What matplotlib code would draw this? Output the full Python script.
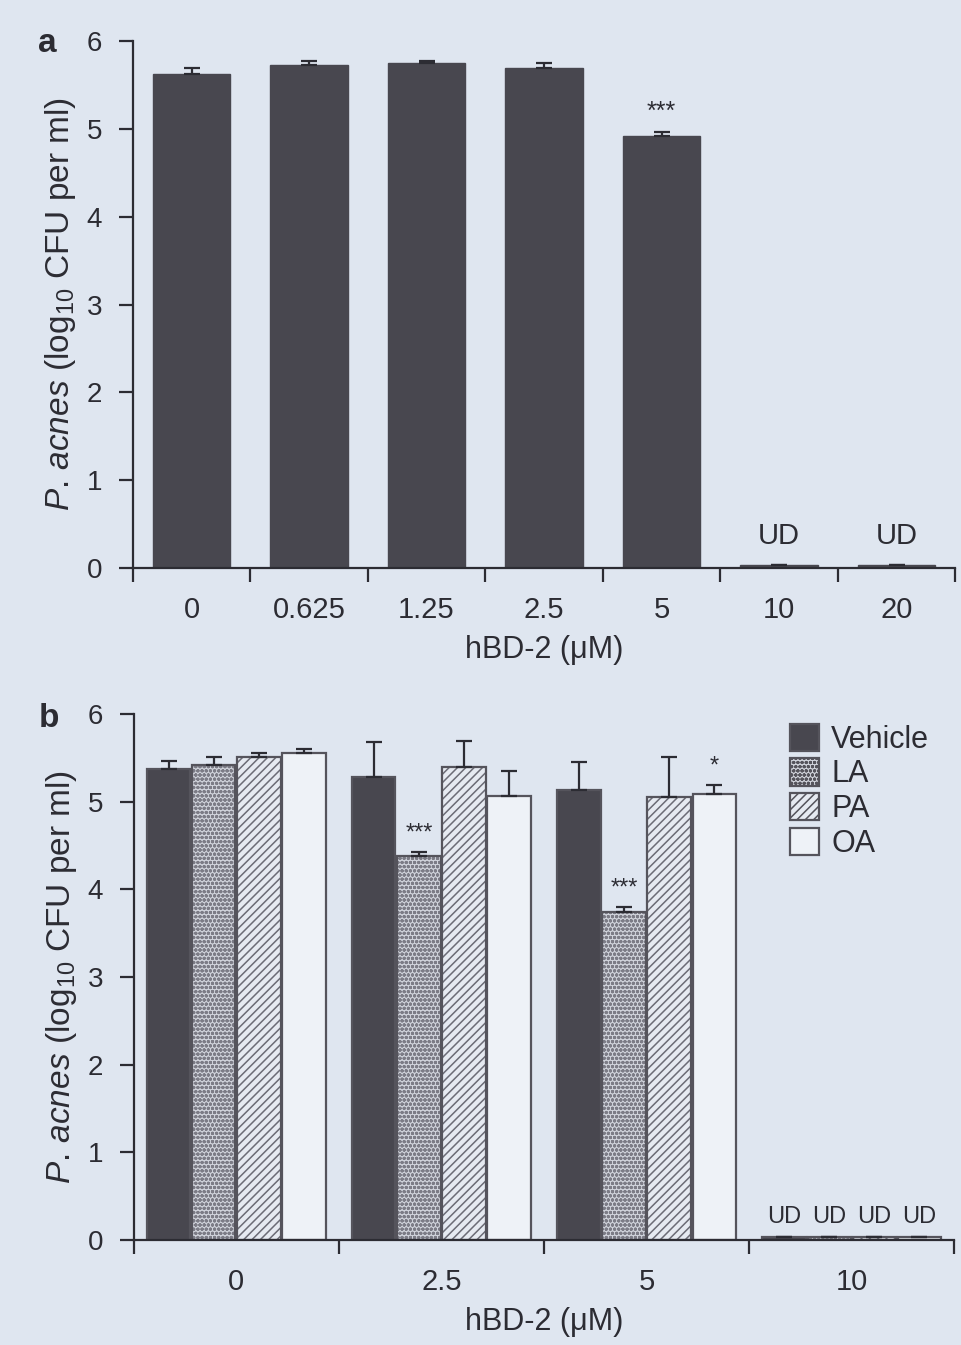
import matplotlib
matplotlib.use("Agg")
import matplotlib.pyplot as plt
import numpy as np

# panel a - hBD-2 alone
conc_a = ["0", "0.625", "1.25", "2.5", "5", "10", "20"]
mean_a = [5.63, 5.73, 5.75, 5.69, 4.92, 0.03, 0.03]
err_a = [0.06, 0.04, 0.02, 0.06, 0.04, 0.0, 0.0]
ud_a = [False, False, False, False, False, True, True]
stars_a = ["", "", "", "", "***", "", ""]

# panel b - hBD-2 plus fatty acids
conc_b = ["0", "2.5", "5", "10"]
treatments = ["Vehicle", "LA", "PA", "OA"]
vehicle = [5.37, 5.28, 5.13, 0.03]
vehicle_err = [0.09, 0.40, 0.32, 0.0]
la = [5.42, 4.38, 3.74, 0.03]
la_err = [0.09, 0.05, 0.06, 0.0]
pa = [5.51, 5.39, 5.05, 0.03]
pa_err = [0.05, 0.30, 0.46, 0.0]
oa = [5.55, 5.06, 5.09, 0.03]
oa_err = [0.05, 0.29, 0.10, 0.0]
stars_b = {("LA", 1): "***", ("LA", 2): "***", ("OA", 2): "*"}

BG = "#dfe6f0"
DARK = "#48474f"
INK = "#2c2c33"

plt.rcParams["font.family"] = ["Liberation Sans Narrow", "Liberation Sans", "DejaVu Sans"]
plt.rcParams["mathtext.fontset"] = "custom"
plt.rcParams["mathtext.rm"] = "Liberation Sans"
plt.rcParams["mathtext.it"] = "Liberation Sans:italic"
plt.rcParams["hatch.linewidth"] = 1.1

fig = plt.figure(figsize=(9.62, 13.45), dpi=100, facecolor=BG)
ax_a = fig.add_axes([0.138, 0.5777, 0.855, 0.3918])
ax_b = fig.add_axes([0.139, 0.0781, 0.853, 0.3911])

ylab = r"$\it{P.\!\ acnes}$ (log$_{10}$ CFU per ml)"


def style_axis(ax, n):
    ax.set_facecolor("none")
    for s in ["top", "right"]:
        ax.spines[s].set_visible(False)
    for s in ["left", "bottom"]:
        ax.spines[s].set_color(INK)
        ax.spines[s].set_linewidth(1.6)
    ax.set_ylim(0, 6)
    ax.set_xlim(-0.5, n - 0.5)
    ax.set_yticks(range(7))
    ax.tick_params(axis="y", direction="out", length=10, width=1.6,
                   color=INK, labelcolor=INK, labelsize=20, pad=12)
    ax.set_xticks(np.arange(n), minor=False)
    ax.set_xticks(np.arange(n + 1) - 0.5, minor=True)
    ax.tick_params(axis="x", which="major", length=0, labelsize=21,
                   labelcolor=INK, pad=20)
    ax.tick_params(axis="x", which="minor", direction="out", length=10,
                   width=1.6, color=INK)
    ax.set_ylabel(ylab, fontsize=24, color=INK, labelpad=6)
    ax.set_xlabel("hBD-2 (\u03bcM)", fontsize=22, color=INK, labelpad=8)


# ---- panel a ----
x_a = np.arange(len(conc_a))
ax_a.bar(x_a, mean_a, width=0.66, color=DARK, edgecolor=DARK, zorder=2)
ax_a.errorbar(x_a, mean_a, yerr=[np.zeros(len(err_a)), err_a], fmt="none",
              ecolor=INK, elinewidth=1.6, capsize=6, capthick=1.6, zorder=3)
for i in range(len(conc_a)):
    if ud_a[i]:
        ax_a.text(x_a[i], 0.2, "UD", ha="center", va="bottom",
                  fontsize=21, color=INK)
    if stars_a[i]:
        ax_a.text(x_a[i], mean_a[i] + err_a[i] + 0.1, stars_a[i],
                  ha="center", va="bottom", fontsize=18, color=INK)
style_axis(ax_a, len(conc_a))
ax_a.set_xticklabels(conc_a)
fig.text(0.04, 0.968, "a", fontsize=24, fontweight="bold", color=INK,
         family="Liberation Sans", va="center")

# ---- panel b ----
x_b = np.arange(len(conc_b))
bw = 0.22
series = [vehicle, la, pa, oa]
errs = [vehicle_err, la_err, pa_err, oa_err]
faces = [DARK, "#cfd2da", "#e6eaf1", "#eef2f7"]
hatches = [None, "oooo", "////", None]
hatch_cols = [DARK, "#7c7c86", "#6c6c76", None]
for k, name in enumerate(treatments):
    xs = x_b + (k - 1.5) * bw
    if hatches[k]:
        # hatch layer in a lighter grey, outline drawn separately
        ax_b.bar(xs, series[k], width=bw * 0.96, color=faces[k],
                 hatch=hatches[k], edgecolor=hatch_cols[k], linewidth=0,
                 zorder=2)
        ax_b.bar(xs, series[k], width=bw * 0.96, fill=False,
                 edgecolor="#55545c", linewidth=1.6, zorder=2)
    else:
        ax_b.bar(xs, series[k], width=bw * 0.96, color=faces[k],
                 edgecolor="#55545c", linewidth=1.6, zorder=2)
    ax_b.errorbar(xs, series[k], yerr=[np.zeros(len(errs[k])), errs[k]],
                  fmt="none", ecolor=INK, elinewidth=1.6, capsize=6,
                  capthick=1.6, zorder=3)
    for g in range(len(conc_b)):
        s = stars_b.get((name, g))
        if s:
            ax_b.text(xs[g], series[k][g] + errs[k][g] + 0.08, s,
                      ha="center", va="bottom", fontsize=17, color=INK)
        if series[k][g] < 0.1:
            ax_b.text(xs[g], 0.14, "UD", ha="center", va="bottom",
                      fontsize=17, color=INK)
style_axis(ax_b, len(conc_b))
ax_b.set_xticklabels(conc_b)

# legend handles built from the same styles as the bars
handles = []
for k in range(len(treatments)):
    handles.append(plt.Rectangle((0, 0), 1, 1, facecolor=faces[k],
                                 hatch=hatches[k], edgecolor="#55545c",
                                 linewidth=1.6))
leg = ax_b.legend(handles, treatments, loc="upper left",
                  bbox_to_anchor=(0.785, 1.005), frameon=False,
                  handlelength=0.95, handleheight=1.0,
                  handletextpad=0.4, labelspacing=0.12, borderaxespad=0,
                  prop={"family": "Liberation Sans", "size": 22})
for t in leg.get_texts():
    t.set_color(INK)
fig.text(0.04, 0.466, "b", fontsize=24, fontweight="bold", color=INK,
         family="Liberation Sans", va="center")

fig.savefig("out.png", dpi=100, facecolor=BG)
